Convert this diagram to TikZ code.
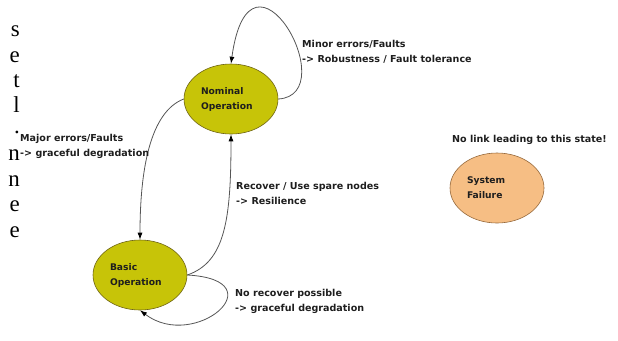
\documentclass[tikz,border=0pt]{standalone}
\usepackage{fontspec}
\setmainfont{DejaVu Sans}
\newfontfamily\pagefont{Liberation Serif}
\usetikzlibrary{shapes.geometric,arrows.meta}
\definecolor{stateyellow}{RGB}{199,196,8}
\definecolor{stateedge}{RGB}{110,100,20}
\definecolor{failpeach}{RGB}{246,190,132}
\definecolor{failedge}{RGB}{150,105,60}
\definecolor{linkgrey}{RGB}{85,85,85}
\definecolor{labelgrey}{RGB}{30,30,30}
\begin{document}
\begin{tikzpicture}[x=1bp, y=-1bp,
        state/.style = {ellipse, draw=stateedge, line width=0.6bp,
            minimum width=94bp, minimum height=70bp,
            text width=60bp, align=left, inner sep=0pt,
            font=\bfseries\fontsize{9.2}{15}\selectfont, text=labelgrey},
        note/.style = {anchor=north west, align=left, inner sep=0pt,
            font=\bfseries\fontsize{9.6}{15.5}\selectfont, text=labelgrey},
        link/.style = {draw=linkgrey, line width=0.8bp,
            -{Latex[length=7bp,width=5bp,color=black]}},
        cut/.style = {anchor=base east, inner sep=0pt,
            font=\pagefont\fontsize{23}{25}\selectfont}]

    \useasboundingbox (0,0) rectangle (618,340);

    % Cut-off text of the page
    \foreach \ch/\yb in {s/36, e/62, t/87, l/112, ./133, n/160, n/186, e/211, e/237}
        \node[cut] (page\yb) at (20,\yb) {\ch};

    % States
    \node[state, fill=stateyellow] (N) at (231,99) {Nominal\\Operation};
    \node[state, fill=stateyellow] (B) at (140,275) {Basic\\Operation};
    \node[state, fill=failpeach, draw=failedge] (F) at (497,188) {System\\Failure};

    % Transitions
    \draw[link] (N.east) .. controls (345,95) and (250,-75) .. (N.north);
    \draw[link] (N.west) .. controls (150,112) and (140,170) .. (B.north);
    \draw[link] (B.east) .. controls (225,262) and (231,220) .. (N.south);
    \draw[link] (B.east) .. controls (278,280) and (195,352) .. (B.south);

    % Transition labels
    \node[note] (minor) at (302,40) {Minor errors/Faults\\-> Robustness / Fault tolerance};
    \node[note] (major) at (20,134) {Major errors/Faults\\-> graceful degradation};
    \node[note] (recover) at (236,182) {Recover / Use spare nodes\\-> Resilience};
    \node[note] (norecover) at (235,289) {No recover possible\\-> graceful degradation};
    \node[note] (nolink) at (452,135) {No link leading to this state!};

\end{tikzpicture}
\end{document}
